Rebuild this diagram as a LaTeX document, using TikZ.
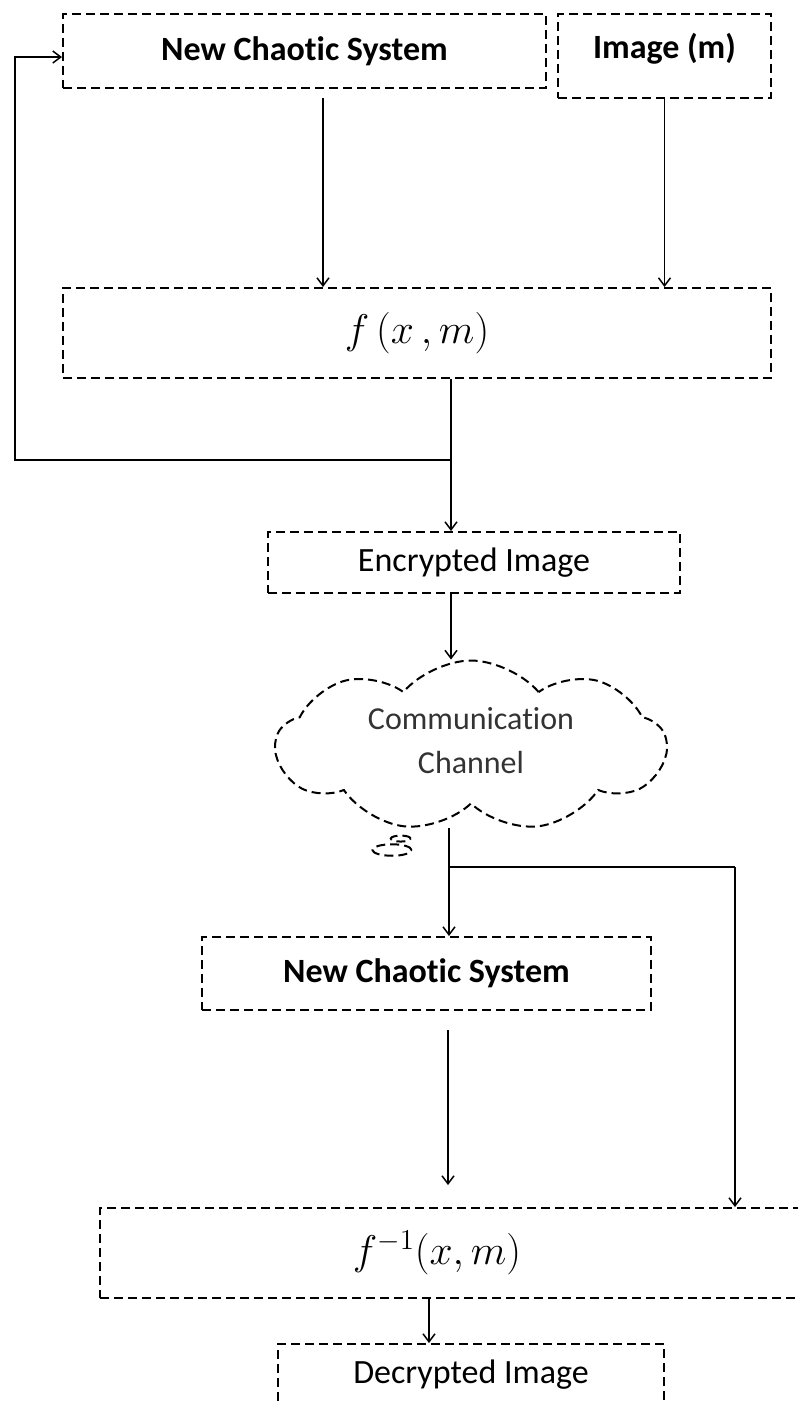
\documentclass[tikz,border=0pt]{standalone}
\usepackage{fontspec}
\setmainfont{Carlito}[Ligatures=NoCommon]
\usetikzlibrary{shapes.symbols,shapes.callouts,arrows.meta}
\tikzset{
  box/.style={draw, dash pattern=on 4.5pt off 2.5pt, line width=1pt, inner sep=0pt},
  bold/.style={font=\fontsize{17}{20}\selectfont\bfseries},
  formula/.style={font=\fontsize{20}{24}\selectfont}
}
\begin{document}
\begin{tikzpicture}[x=0.5pt, y=-0.5pt, line width=0.75pt, >={Straight Barb[length=4pt,width=6pt]}, font=\fontsize{17}{20}\selectfont]
	\useasboundingbox (0,0) rectangle (798,1404);
	\node[box, bold, minimum width=241.5pt, minimum height=37pt] (nc1) at (304.5,51) {New Chaotic System};
	\node[box, bold, minimum width=106.5pt, minimum height=42pt, text depth=10pt] (img) at (664.5,56) {Image (m)};
	\node[box, formula, minimum width=354pt, minimum height=45pt] (f) at (417,333) {$f\,(x\,,m)$};
	\node[box, minimum width=206pt, minimum height=30.5pt] (enc) at (474,562.5) {Encrypted Image};
	\node[cloud callout, draw, dash pattern=on 4.5pt off 2.5pt, line width=1pt, cloud puffs=9, cloud puff arc=100, aspect=2.4,
	  minimum width=195pt, minimum height=78pt, callout absolute pointer={(392,850)}, callout pointer start size=.25,
	  align=center, text=black!80, font=\fontsize{16}{22}\selectfont] (cl) at (471,746) {Communication\\Channel\\[-16.5pt]};
	\node[box, bold, minimum width=224.5pt, minimum height=36.5pt] (nc2) at (426.5,973.5) {New Chaotic System};
	\node[box, formula, minimum width=370pt, minimum height=45pt] (finv) at (470,1253) {\hspace*{-33pt}$f^{-1}(x,m)$};
	\node[box, minimum width=193pt, minimum height=31pt] (dec) at (471,1375) {Decrypted Image};
	\path
	(323,98) coordinate (a1)
	(451,460) coordinate (j1)
	(15,57) coordinate (fb)
	(449,828) coordinate (c1)
	(449,867) coordinate (j2)
	(735,867) coordinate (j3)
	(448,1030) coordinate (a2)
	(429,1298) coordinate (a3);
	% encryption side
	\draw[->] (a1) -- (a1 |- f.north);
	\draw[->] (img.south) -- (img.south |- f.north);
	\draw (f.south -| j1) -- (j1);
	\draw[->] (j1) -- (j1 |- enc.north);
	\draw[->] (j1) -| (fb) -- (fb -| nc1.west);
	\draw[->] (enc.south -| j1) -- (j1 |- cl.north);
	% decryption side
	\draw (c1) -- (j2) -- (j3);
	\draw[->] (j3) -- (j3 |- finv.north);
	\draw[->] (j2) -- (j2 |- nc2.north);
	\draw[->, shorten >=11pt] (a2) -- (a2 |- finv.north);
	\draw[->] (finv.south -| a3) -- (a3 |- dec.north);
\end{tikzpicture}
\end{document}
